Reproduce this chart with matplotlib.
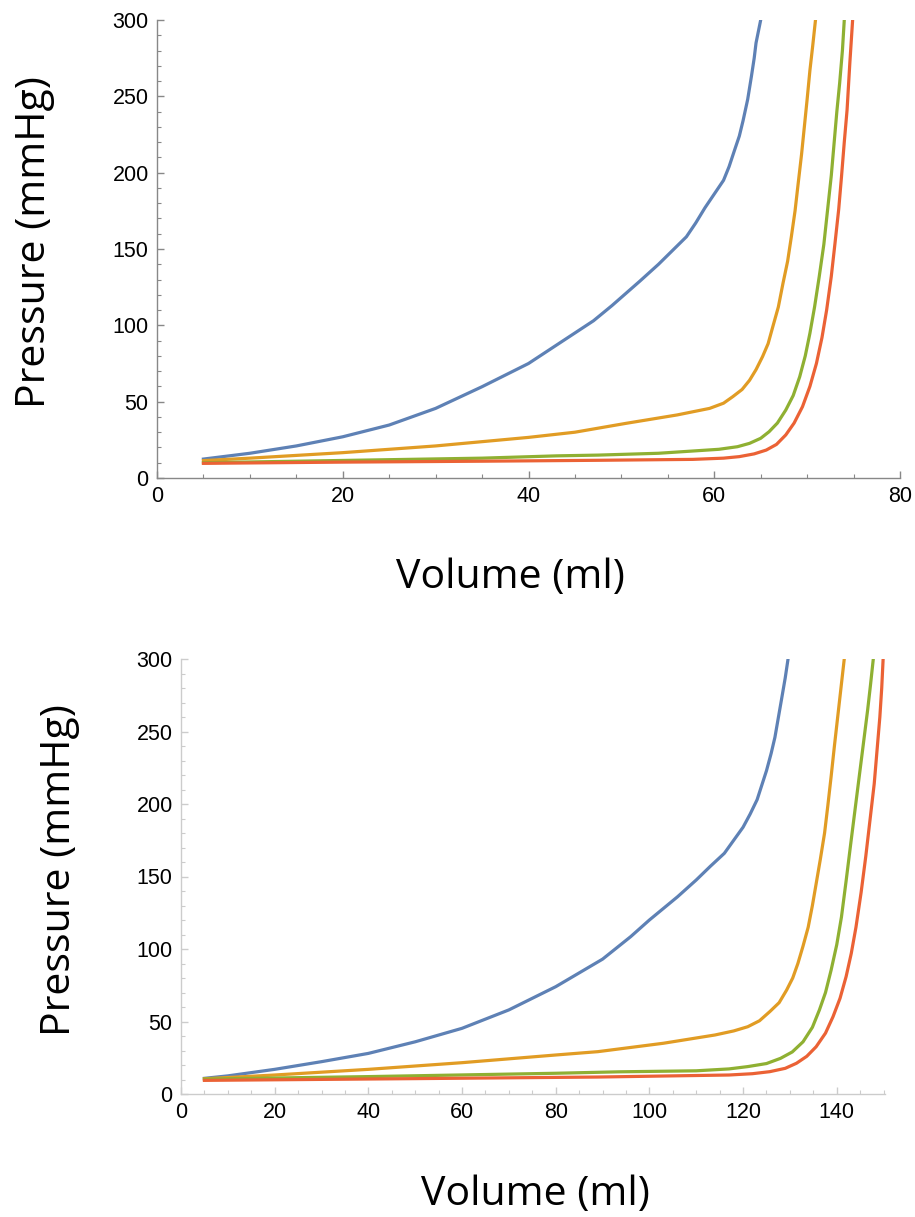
import matplotlib
matplotlib.use("Agg")
import matplotlib.pyplot as plt
from matplotlib.ticker import MultipleLocator

# colours of the four curves (Mathematica default palette)
colors = ["#5E81B5", "#E19C24", "#8FB032", "#EB6235"]

# top panel: volume (ml) / pressure (mmHg)
top_blue_v = [5, 10, 15, 20, 25, 30, 35, 40, 42, 45, 47, 49, 50.5, 52, 54, 55.5, 56.5, 57, 58, 59, 60, 61,
              61.6, 62.2, 62.7, 63.1, 63.6, 64, 64.3, 64.5, 65]
top_blue_p = [12.4, 16.2, 21, 27, 34.7, 45.6, 59.8, 75, 83, 95, 103, 113, 121, 129, 140, 149, 155, 158, 167, 177, 186, 195,
              204, 215, 224, 234, 248, 263, 275, 285, 300]

top_orange_v = [5, 10, 20, 30, 40, 45, 50.5, 56, 59.5, 61, 62, 63, 63.8, 64.5, 65.2, 65.8, 66.3, 66.9, 67.4,
                67.9, 68.3, 68.7, 69, 69.4, 69.7, 70, 70.3, 70.6, 70.9]
top_orange_p = [11.4, 13, 16.6, 21, 26.6, 30, 35.8, 41.3, 45.6, 49, 53.3, 58, 64, 71, 79.5, 88, 99, 112, 127.5,
                142, 158, 175, 191, 212, 230, 248, 267, 283, 300]

top_green_v = [5, 20, 35, 43, 47.5, 54, 60.5, 62.5, 63.8, 65, 65.9, 66.8, 67.7, 68.5, 69.2, 69.8, 70.3, 70.8,
               71.3, 71.8, 72.2, 72.6, 72.9, 73.2, 73.5, 73.8, 74]
top_green_p = [10, 11.5, 13, 14.5, 15, 16.2, 18.8, 20.5, 22.7, 26, 30.3, 36, 44.5, 54, 66.3, 80, 94.8, 112,
               131.8, 153, 175.5, 198, 219, 240, 258.5, 280, 300]

top_red_v = [5, 20, 35, 47.5, 57.7, 61, 62.7, 64.3, 65.6, 66.7, 67.7, 68.6, 69.5, 70.3, 71, 71.6, 72.1, 72.6,
             73, 73.4, 73.7, 74, 74.3, 74.6, 74.9]
top_red_p = [9.6, 10.4, 11, 11.6, 12.2, 13, 14, 15.8, 18.3, 22, 28.2, 36, 46.7, 60, 75, 92, 110, 132,
             153.7, 176, 197.3, 220, 241, 272, 300]

# bottom panel
bot_blue_v = [5, 10, 20, 30, 40, 50, 60, 70, 80, 90, 96, 100, 103, 106, 110, 113, 116, 118, 120,
              121.5, 123, 124, 125, 126, 126.8, 127.5, 128.2, 129, 129.6]
bot_blue_p = [10.8, 12.5, 17, 22.3, 28, 36, 45.3, 58, 74, 93, 108.5, 120, 128, 136, 147.6, 157, 166, 175, 184,
              193, 203, 213, 223, 235, 246, 259, 272, 287, 300]

bot_orange_v = [5, 20, 40, 60, 80, 89, 103, 114, 118, 121, 123.5, 125.7, 127.7, 129.3, 130.6, 131.7, 132.8,
                133.9, 134.8, 135.6, 136.5, 137.4, 138.1, 138.8, 139.5, 140.2, 140.9, 141.6]
bot_orange_p = [10.5, 13.1, 17, 21.6, 26.9, 29.2, 35, 40.7, 43.5, 46.4, 50.5, 56.8, 63, 71.7, 80, 90, 102,
                115, 130, 145, 162, 180, 199, 219, 240, 260, 280, 300]

bot_green_v = [5, 40, 80, 93.5, 110, 117, 121, 125, 128, 130.5, 132.8, 134.8, 136.3, 137.6, 138.8, 140,
               141, 142, 143, 143.9, 144.8, 145.7, 146.6, 147.2, 147.8]
bot_green_p = [10.3, 12, 14.3, 15.3, 16, 17.3, 18.9, 21, 24.6, 29, 36, 46, 58, 70, 85.5, 103,
               122, 147, 173, 196, 219, 242, 265, 282, 300]

bot_red_v = [5, 50, 89, 117, 122, 125.7, 129, 131.4, 133.6, 135.6, 137.6, 139.2, 140.7, 142, 143.1, 144.1,
             145.2, 146.2, 147.1, 148, 148.6, 149.2, 149.6, 149.9]
bot_red_p = [9.4, 10.6, 11.7, 13.1, 14, 15.4, 17.7, 21.2, 26, 32.6, 42, 53.3, 66, 81, 97, 115,
             139, 164, 189, 214, 237, 260, 280, 300]

W, H = 915, 1217
fig = plt.figure(figsize=(W / 100, H / 100), dpi=100)


def style_axes(ax, xmax, axis_color):
    ax.set_xlim(0, xmax)
    ax.set_ylim(0, 300)
    for s in ["top", "right"]:
        ax.spines[s].set_visible(False)
    for s in ["left", "bottom"]:
        ax.spines[s].set_color(axis_color)
        ax.spines[s].set_linewidth(1.0)
    ax.xaxis.set_major_locator(MultipleLocator(20))
    ax.xaxis.set_minor_locator(MultipleLocator(5))
    ax.yaxis.set_major_locator(MultipleLocator(50))
    ax.yaxis.set_minor_locator(MultipleLocator(10))
    ax.tick_params(which="major", direction="in", length=5, width=1, color=axis_color,
                   labelsize=15.5, pad=6)
    ax.tick_params(which="minor", direction="in", length=3, width=0.8, color=axis_color)
    for lab in ax.get_xticklabels() + ax.get_yticklabels():
        lab.set_family("Liberation Sans")


# top panel
ax1 = fig.add_axes([157 / W, 1 - 478 / H, 743 / W, 458 / H])
ax1.plot(top_blue_v, top_blue_p, color=colors[0], lw=2.3)
ax1.plot(top_orange_v, top_orange_p, color=colors[1], lw=2.3)
ax1.plot(top_green_v, top_green_p, color=colors[2], lw=2.3)
ax1.plot(top_red_v, top_red_p, color=colors[3], lw=2.3)
style_axes(ax1, 80, "#888888")

# bottom panel
ax2 = fig.add_axes([181 / W, 1 - 1094 / H, 704 / W, 435 / H])
ax2.plot(bot_blue_v, bot_blue_p, color=colors[0], lw=2.3)
ax2.plot(bot_orange_v, bot_orange_p, color=colors[1], lw=2.3)
ax2.plot(bot_green_v, bot_green_p, color=colors[2], lw=2.3)
ax2.plot(bot_red_v, bot_red_p, color=colors[3], lw=2.3)
style_axes(ax2, 150.3, "#cccccc")

# axis titles
fnt = dict(family="Open Sans", fontsize=29.5, ha="center", va="center")
fig.text(35 / W, 1 - 242 / H, "Pressure (mmHg)", rotation=90, **fnt)
fig.text(510 / W, 1 - 578 / H, "Volume (ml)", **fnt)
fig.text(60 / W, 1 - 870 / H, "Pressure (mmHg)", rotation=90, **fnt)
fig.text(535 / W, 1 - 1195 / H, "Volume (ml)", **fnt)

fig.savefig("out.png", dpi=100)
